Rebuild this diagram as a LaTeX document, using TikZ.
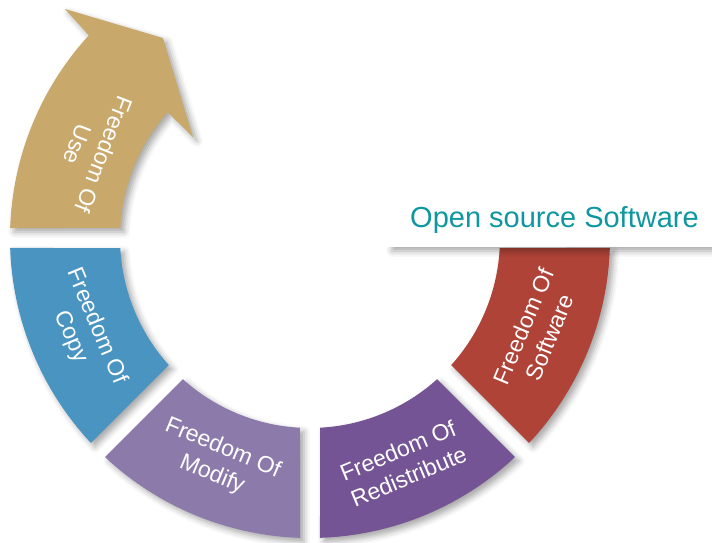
\documentclass[tikz,border=0pt]{standalone}
\usepackage{fontspec}
\setmainfont{Liberation Sans}
\usetikzlibrary{shadows.blur}
\definecolor{cgold}{HTML}{C9A86B}
\definecolor{cblue}{HTML}{4A94C1}
\definecolor{clav}{HTML}{8C7AAA}
\definecolor{cpurp}{HTML}{745494}
\definecolor{cred}{HTML}{B04338}
\definecolor{cteal}{HTML}{0E97A0}
\begin{document}
\begin{tikzpicture}[x=1pt,y=1pt,
  seg/.style={blur shadow={shadow xshift=4pt,shadow yshift=-4pt,shadow blur radius=6pt,shadow opacity=35}},
  lbl/.style={text=white,font=\fontsize{23}{28}\selectfont,align=center,inner sep=0pt}]
\useasboundingbox (0,0) rectangle (712,542);
\begin{scope}[shift={(310,304)}]
  % ring segments
  \foreach \a/\c in {180/cblue,225/clav,270/cpurp,315/cred}{
    \fill[\c,seg] ({\a+1.91}:300pt) arc[start angle={\a+1.91},end angle={\a+43.09},radius=300pt]
      -- ({\a+41.98}:190pt) arc[start angle={\a+41.98},end angle={\a+3.02},radius=190pt] -- cycle;
  }
  % arrow segment
  \fill[cgold,seg] (178.09:300pt) arc[start angle=178.09,end angle=137.5,radius=300pt]
    -- (-245pt,229pt) -- (-147pt,200pt) -- (-117pt,101pt)
    -- (138.5:190pt) arc[start angle=138.5,end angle=176.98,radius=190pt] -- cycle;
\end{scope}
% title band: only its shadow below is visible
\begin{scope}
  \clip (0,0) rectangle (712,295);
  \fill[white,blur shadow={shadow xshift=0pt,shadow yshift=-4pt,shadow blur radius=6pt,shadow opacity=35}] (392,295) rectangle (760,360);
\end{scope}
\node[anchor=base west,text=cteal,font=\fontsize{29}{34}\selectfont,inner sep=0pt] (title) at (410,315) {Open source Software};
\begin{scope}[shift={(310,304)}]
  \node[lbl,rotate=-111] (use) at (158:236pt) {Freedom Of\\Use};
  \node[lbl,rotate=-67.5] (copy) at (202.5:245pt) {Freedom Of\\Copy};
  \node[lbl,rotate=-22.5] (modify) at (247.5:242pt) {Freedom Of\\Modify};
  \node[lbl,rotate=22.5] (redist) at (292.5:244pt) {Freedom Of\\Redistribute};
  \node[lbl,rotate=67.5] (soft) at (337.5:245pt) {Freedom Of\\Software};
\end{scope}
\end{tikzpicture}
\end{document}
